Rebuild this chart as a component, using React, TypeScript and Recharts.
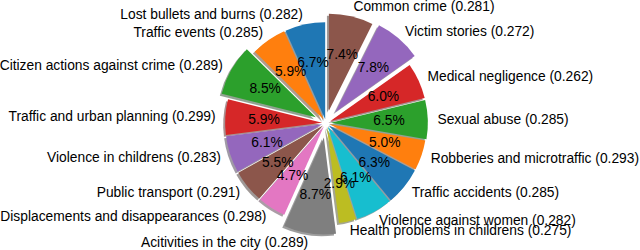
import React from 'react';
import { PieChart, Pie, Sector } from 'recharts';

const categories = [
  'Lost bullets and burns',
  'Traffic events',
  'Citizen actions against crime',
  'Traffic and urban planning',
  'Violence in childrens',
  'Public transport',
  'Displacements and disappearances',
  'Acitivities in the city',
  'Health problems in childrens',
  'Violence against women',
  'Traffic accidents',
  'Robberies and microtraffic',
  'Sexual abuse',
  'Medical negligence',
  'Victim stories',
  'Common crime',
];
const shares = [6.7, 5.9, 8.5, 5.9, 6.1, 5.5, 4.7, 8.7, 2.9, 6.1, 6.3, 5.0, 6.5, 6.0, 7.8, 7.4];
const scores = ['0.282', '0.285', '0.289', '0.299', '0.283', '0.291', '0.298', '0.289', '0.275', '0.282', '0.285', '0.293', '0.285', '0.262', '0.272', '0.281'];

// pie "explode" fractions of the radius (style)
const explode = [0.04, 0.04, 0.12, 0.04, 0.04, 0.04, 0.04, 0.15, 0.04, 0.04, 0.04, 0.04, 0.05, 0.05, 0.15, 0.13];
const palette = ['#1f77b4', '#ff7f0e', '#2ca02c', '#d62728', '#9467bd', '#8c564b', '#e377c2', '#7f7f7f', '#bcbd22', '#17becf'];

const data = categories.map((name, i) => ({ name, value: shares[i] }));

const RAD = Math.PI / 180;
const FONT = '"Liberation Sans", Arial, Helvetica, sans-serif';
const FS = 13.8;

function colorOf(i: number) {
  return palette[i % palette.length];
}
function shadeOf(hex: string) {
  const n = parseInt(hex.slice(1), 16);
  const r = Math.round(((n >> 16) & 255) * 0.3);
  const g = Math.round(((n >> 8) & 255) * 0.3);
  const b = Math.round((n & 255) * 0.3);
  return `rgb(${r},${g},${b})`;
}
function exploded(p: any) {
  const e = explode[p.index];
  const a = -p.midAngle * RAD;
  return [p.cx + e * p.outerRadius * Math.cos(a), p.cy + e * p.outerRadius * Math.sin(a)];
}

const renderShadow = (p: any) => {
  const [x, y] = exploded(p);
  const off = 0.02 * p.outerRadius;
  const c = shadeOf(colorOf(p.index));
  return (
    <Sector
      cx={x - off}
      cy={y + off}
      innerRadius={0}
      outerRadius={p.outerRadius}
      startAngle={p.startAngle}
      endAngle={p.endAngle}
      fill={c}
      stroke="none"
      fillOpacity={0.45}
    />
  );
};

const renderWedge = (p: any) => {
  const [x, y] = exploded(p);
  return (
    <Sector
      cx={x}
      cy={y}
      innerRadius={0}
      outerRadius={p.outerRadius}
      startAngle={p.startAngle}
      endAngle={p.endAngle}
      fill={colorOf(p.index)}
      stroke="none"
    />
  );
};

const renderTexts = (p: any) => {
  const [x, y] = exploded(p);
  const R = p.outerRadius;
  const a = -p.midAngle * RAD;
  const lx = x + 1.1 * R * Math.cos(a);
  const ly = y + 1.1 * R * Math.sin(a);
  const px = x + 0.6 * R * Math.cos(a);
  const py = y + 0.6 * R * Math.sin(a);
  return (
    <g>
      <text
        x={lx}
        y={ly}
        textAnchor={lx < p.cx ? 'end' : 'start'}
        dominantBaseline="central"
        fontFamily={FONT}
        fontSize={FS}
        fill="#000"
      >
        {`${categories[p.index]} (${scores[p.index]})`}
      </text>
      <text
        x={px}
        y={py}
        textAnchor="middle"
        dominantBaseline="central"
        fontFamily={FONT}
        fontSize={FS}
        fill="#000"
      >
        {`${(p.percent * 100).toFixed(1)}%`}
      </text>
    </g>
  );
};

export default function App() {
  const common = {
    data,
    dataKey: 'value',
    nameKey: 'name',
    cx: 326,
    cy: 123,
    innerRadius: 0,
    outerRadius: 97,
    startAngle: 90,
    endAngle: 450,
    fill: 'transparent',
    stroke: 'none',
    labelLine: false,
    isAnimationActive: false,
  } as any;
  return (
    <div style={{ position: 'absolute', left: 0, top: 0, width: 640, height: 250, background: '#fff' }}>
      <PieChart width={640} height={250} margin={{ top: 0, right: 0, bottom: 0, left: 0 }}>
        <Pie {...common} label={renderShadow} />
        <Pie {...common} label={renderWedge} />
        <Pie {...common} label={renderTexts} />
      </PieChart>
    </div>
  );
}
